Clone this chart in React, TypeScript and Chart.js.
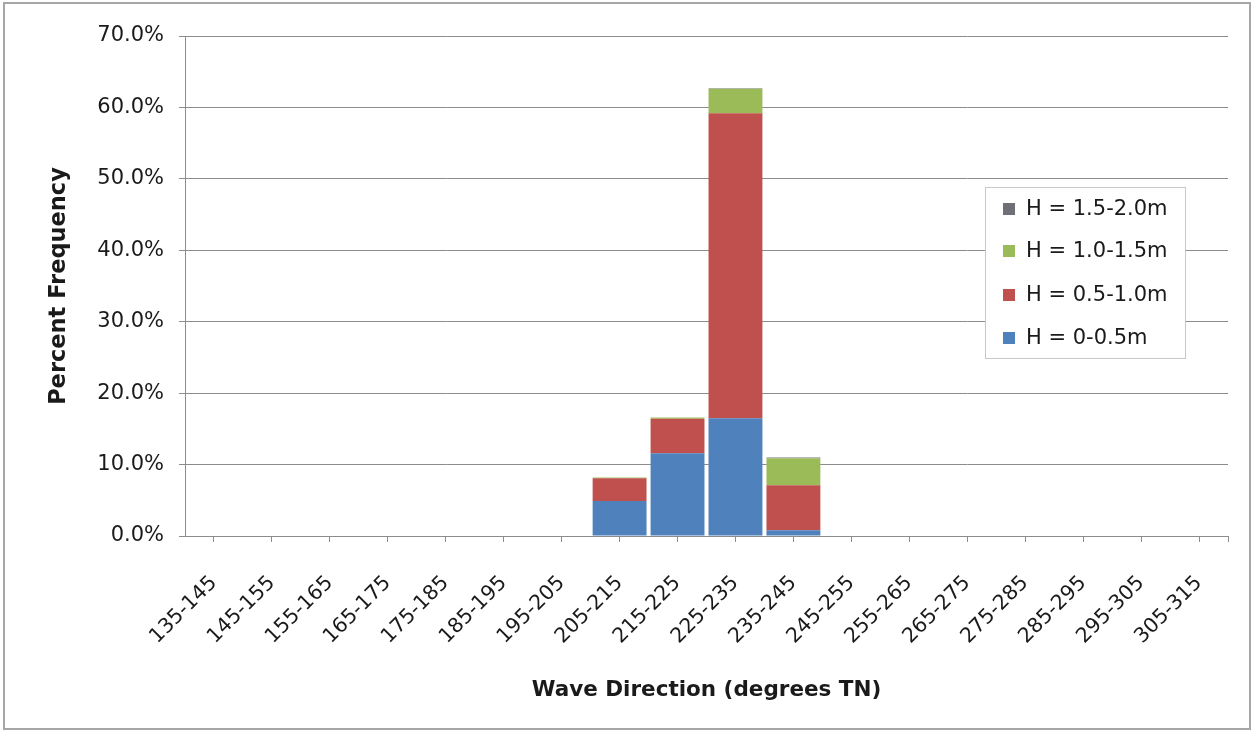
import React, { useEffect, useRef } from "react";
import { Chart, registerables } from "chart.js";

Chart.register(...registerables);

const categories = [
  "135-145", "145-155", "155-165", "165-175", "175-185", "185-195",
  "195-205", "205-215", "215-225", "225-235", "235-245", "245-255",
  "255-265", "265-275", "275-285", "285-295", "295-305", "305-315",
];

const h0to05 = [0, 0, 0, 0, 0, 0, 0, 4.9, 11.6, 16.5, 0.8, 0, 0, 0, 0, 0, 0, 0];
const h05to10 = [0, 0, 0, 0, 0, 0, 0, 3.2, 4.8, 42.7, 6.3, 0, 0, 0, 0, 0, 0, 0];
const h10to15 = [0, 0, 0, 0, 0, 0, 0, 0.1, 0.2, 3.4, 3.8, 0, 0, 0, 0, 0, 0, 0];
const h15to20 = [0, 0, 0, 0, 0, 0, 0, 0, 0, 0.1, 0.1, 0, 0, 0, 0, 0, 0, 0];

const seriesLabels = ["H = 0-0.5m", "H = 0.5-1.0m", "H = 1.0-1.5m", "H = 1.5-2.0m"];
const seriesColors = ["#4F81BD", "#C0504D", "#9BBB59", "#6F6F78"];

const yTicks = [0, 10, 20, 30, 40, 50, 60, 70];

const FONT = "'DejaVu Sans', sans-serif";

const framePlugin = {
  id: "frame",
  beforeDraw(chart: any) {
    const ctx = chart.ctx;
    ctx.save();
    ctx.fillStyle = "#ffffff";
    ctx.fillRect(0, 0, chart.width, chart.height);
    ctx.strokeStyle = "#a6a6a6";
    ctx.lineWidth = 2;
    ctx.strokeRect(4, 3, 1246, 726);
    ctx.restore();
  },
  afterDraw(chart: any) {
    const ctx = chart.ctx;
    const area = chart.chartArea;
    ctx.save();
    ctx.strokeStyle = "#8c8c8c";
    ctx.lineWidth = 1;
    ctx.beginPath();
    ctx.moveTo(Math.round(area.right) + 0.5, area.bottom);
    ctx.lineTo(Math.round(area.right) + 0.5, area.bottom + 6);
    ctx.stroke();

    // legend
    const lx = 985, ly = 187, lw = 200, lh = 171;
    ctx.fillStyle = "#ffffff";
    ctx.fillRect(lx, ly, lw, lh);
    ctx.strokeStyle = "#c8c8c8";
    ctx.strokeRect(lx + 0.5, ly + 0.5, lw, lh);
    const ds = chart.data.datasets;
    const rows = [3, 2, 1, 0];
    const ys = [209, 251, 295, 338];
    ctx.font = `21px ${FONT}`;
    ctx.textBaseline = "middle";
    ctx.textAlign = "left";
    rows.forEach((di: number, i: number) => {
      ctx.fillStyle = ds[di].backgroundColor;
      ctx.fillRect(1003, ys[i] - 6, 12, 12);
      ctx.fillStyle = "#1a1a1a";
      ctx.fillText(ds[di].label, 1026, ys[i] + 1);
    });
    ctx.restore();
  },
};

export default function App() {
  const ref = useRef<HTMLCanvasElement | null>(null);

  useEffect(() => {
    if (!ref.current) return;
    const values = [h0to05, h05to10, h10to15, h15to20];
    const chart = new Chart(ref.current, {
      type: "bar",
      data: {
        labels: categories,
        datasets: values.map((v, i) => ({
          label: seriesLabels[i],
          data: v,
          backgroundColor: seriesColors[i],
          borderWidth: 0,
          barPercentage: 0.93,
          categoryPercentage: 1,
        })),
      },
      options: {
        responsive: false,
        animation: false,
        devicePixelRatio: 1,
        layout: { padding: { left: 0, top: 36, right: 26, bottom: 0 } },
        plugins: {
          legend: { display: false },
          tooltip: { enabled: false },
          title: { display: false },
        },
        scales: {
          x: {
            stacked: true,
            offset: true,
            grid: {
              offset: false,
              drawOnChartArea: false,
              drawTicks: true,
              tickLength: 6,
              color: "#8c8c8c",
            },
            border: { color: "#8c8c8c" },
            ticks: {
              minRotation: 45,
              maxRotation: 45,
              autoSkip: false,
              padding: 29,
              color: "#1a1a1a",
              font: { family: FONT, size: 20.5 },
            },
            title: {
              display: true,
              text: "Wave Direction (degrees TN)",
              color: "#1a1a1a",
              font: { family: FONT, size: 21.5, weight: "bold" },
              padding: { top: 0, bottom: 29 },
            },
            afterFit(scale: any) {
              scale.height = 196;
            },
          },
          y: {
            stacked: true,
            min: 0,
            max: 70,
            afterBuildTicks(scale: any) {
              scale.ticks = yTicks.map((v) => ({ value: v }));
            },
            grid: {
              color: "#8c8c8c",
              tickLength: 6,
            },
            border: { color: "#8c8c8c" },
            ticks: {
              padding: 15,
              color: "#1a1a1a",
              font: { family: FONT, size: 21 },
              callback: (v: any) => Number(v).toFixed(1) + "%",
            },
            title: {
              display: true,
              text: "Percent Frequency",
              color: "#1a1a1a",
              font: { family: FONT, size: 22.5, weight: "bold" },
              padding: { top: 46, bottom: 0 },
            },
            afterFit(scale: any) {
              scale.width = 185;
            },
          },
        },
      },
      plugins: [framePlugin],
    });
    return () => chart.destroy();
  }, []);

  return (
    <div style={{ position: "fixed", left: 0, top: 0, width: 1254, height: 732, background: "#fff" }}>
      <canvas ref={ref} width={1254} height={732} style={{ width: 1254, height: 732, display: "block" }} />
    </div>
  );
}
